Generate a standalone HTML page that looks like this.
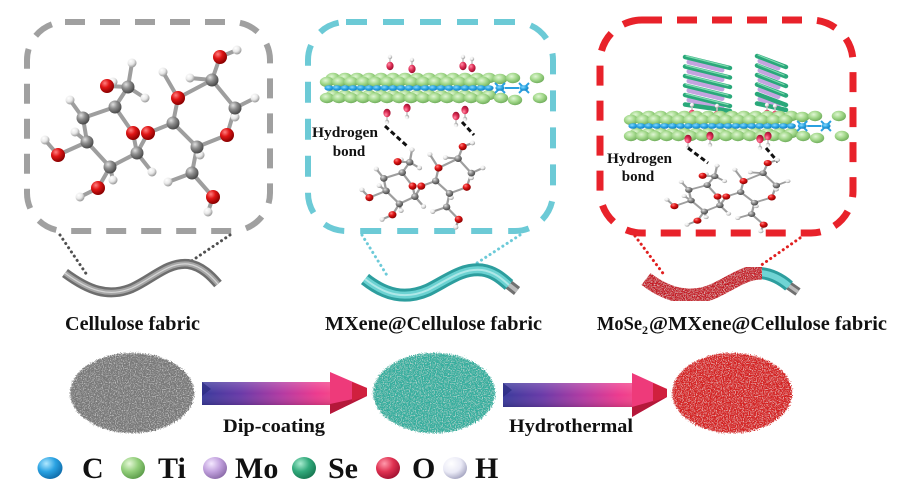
<!DOCTYPE html>
<html><head><meta charset="utf-8"><style>
html,body{margin:0;padding:0;background:#fff;}
svg{display:block;}
text{font-family:"Liberation Serif","DejaVu Serif",serif;font-weight:bold;fill:#111;}
</style></head><body>
<svg width="910" height="503" viewBox="0 0 910 503" xmlns="http://www.w3.org/2000/svg">
<defs>
<radialGradient id="gO" cx="35%" cy="30%" r="70%"><stop offset="0" stop-color="#ff8080"/><stop offset="0.45" stop-color="#e01515"/><stop offset="1" stop-color="#8a0000"/></radialGradient>
<radialGradient id="gC" cx="35%" cy="30%" r="70%"><stop offset="0" stop-color="#e0e0e0"/><stop offset="0.45" stop-color="#8e8e8e"/><stop offset="1" stop-color="#4a4a4a"/></radialGradient>
<radialGradient id="gH" cx="35%" cy="30%" r="70%"><stop offset="0" stop-color="#ffffff"/><stop offset="0.55" stop-color="#e8e8e8"/><stop offset="1" stop-color="#9a9a9a"/></radialGradient>
<radialGradient id="gG" cx="40%" cy="35%" r="70%"><stop offset="0" stop-color="#e0f6d4"/><stop offset="0.5" stop-color="#a2d88a"/><stop offset="1" stop-color="#6aa856"/></radialGradient>
<radialGradient id="gB" cx="40%" cy="35%" r="70%"><stop offset="0" stop-color="#8ad8ff"/><stop offset="0.5" stop-color="#2aa6e4"/><stop offset="1" stop-color="#1478b8"/></radialGradient>
<radialGradient id="gOs" cx="35%" cy="30%" r="70%"><stop offset="0" stop-color="#ff90a8"/><stop offset="0.5" stop-color="#e03058"/><stop offset="1" stop-color="#a01030"/></radialGradient>
<radialGradient id="lC" cx="35%" cy="30%" r="75%"><stop offset="0" stop-color="#b0e8ff"/><stop offset="0.5" stop-color="#2aa2e2"/><stop offset="1" stop-color="#0e6aa8"/></radialGradient>
<radialGradient id="lTi" cx="35%" cy="30%" r="75%"><stop offset="0" stop-color="#e6f8d8"/><stop offset="0.5" stop-color="#92ce7a"/><stop offset="1" stop-color="#5a9a48"/></radialGradient>
<radialGradient id="lMo" cx="35%" cy="30%" r="75%"><stop offset="0" stop-color="#f4e8ff"/><stop offset="0.5" stop-color="#c2a2de"/><stop offset="1" stop-color="#8a6aa8"/></radialGradient>
<radialGradient id="lSe" cx="35%" cy="30%" r="75%"><stop offset="0" stop-color="#a8ecd0"/><stop offset="0.5" stop-color="#32aa7c"/><stop offset="1" stop-color="#167650"/></radialGradient>
<radialGradient id="lO" cx="35%" cy="30%" r="75%"><stop offset="0" stop-color="#ff9aac"/><stop offset="0.5" stop-color="#e03252"/><stop offset="1" stop-color="#a01030"/></radialGradient>
<radialGradient id="lH" cx="35%" cy="30%" r="75%"><stop offset="0" stop-color="#ffffff"/><stop offset="0.55" stop-color="#eaeaf6"/><stop offset="1" stop-color="#a4a4c0"/></radialGradient>
<linearGradient id="arr" x1="0" y1="0" x2="1" y2="0"><stop offset="0" stop-color="#3a3a9c"/><stop offset="0.3" stop-color="#6a3aa8"/><stop offset="0.62" stop-color="#b43aa2"/><stop offset="0.88" stop-color="#ec3a8e"/><stop offset="1" stop-color="#f4468a"/></linearGradient>
<linearGradient id="arrV" x1="0" y1="0" x2="0" y2="1"><stop offset="0" stop-color="#fff" stop-opacity="0.18"/><stop offset="0.5" stop-color="#fff" stop-opacity="0"/><stop offset="1" stop-color="#000" stop-opacity="0.15"/></linearGradient>
<filter id="spk" x="-10%" y="-10%" width="120%" height="120%">
<feTurbulence type="fractalNoise" baseFrequency="0.85" numOctaves="2" seed="4" result="n"/>
<feDisplacementMap in="SourceGraphic" in2="n" scale="6" xChannelSelector="R" yChannelSelector="G" result="d"/>
<feColorMatrix in="n" type="matrix" values="0 0 0 0 1  0 0 0 0 1  0 0 0 0 1  1.6 0 0 0 -0.78" result="w"/>
<feComposite in="w" in2="d" operator="in" result="ws"/>
<feMerge><feMergeNode in="d"/><feMergeNode in="ws"/></feMerge>
</filter>
<filter id="spk2" x="-10%" y="-20%" width="120%" height="140%">
<feTurbulence type="fractalNoise" baseFrequency="0.9" numOctaves="2" seed="7" result="n"/>
<feColorMatrix in="n" type="matrix" values="0 0 0 0 0.85  0 0 0 0 0.8  0 0 0 0 0.8  2.2 0 0 0 -1.05" result="w"/>
<feComposite in="w" in2="SourceGraphic" operator="in" result="ws"/>
<feMerge><feMergeNode in="SourceGraphic"/><feMergeNode in="ws"/></feMerge>
</filter>

<g id="mol">
<g stroke="#9e9e9e" stroke-width="4" stroke-linecap="round" fill="none">
<path d="M83,118L115,107L133,133L137,153L110,167L87,142Z"/>
<path d="M115,107L128,87M128,87L107,86M107,86L113,82M128,87L132,63M128,87L145,98M83,118L70,100M87,142L75,132M87,142L58,155M58,155L45,140M110,167L113,180M110,167L98,188M98,188L80,197M137,153L152,172M137,153L148,133M148,133L173,123M173,123L178,98M178,98L212,80M212,80L220,57M220,57L237,50M212,80L235,108M235,108L227,135M227,135L197,147M197,147L173,123M235,108L255,98M235,108L235,117M197,147L200,155M197,147L192,173M192,173L213,197M213,197L208,212M192,173L168,182M178,98L163,72M212,80L190,78"/>
</g>
<g fill="url(#gH)">
<circle cx="113" cy="82" r="4.5"/><circle cx="132" cy="63" r="4.5"/><circle cx="145" cy="98" r="4.5"/><circle cx="70" cy="100" r="4.5"/><circle cx="75" cy="132" r="4.5"/><circle cx="45" cy="140" r="4.5"/><circle cx="113" cy="180" r="4.5"/><circle cx="80" cy="197" r="4.5"/><circle cx="152" cy="172" r="4.5"/><circle cx="163" cy="72" r="4.5"/><circle cx="190" cy="78" r="4.5"/><circle cx="237" cy="50" r="4.5"/><circle cx="255" cy="98" r="4.5"/><circle cx="235" cy="117" r="4.5"/><circle cx="200" cy="155" r="4.5"/><circle cx="168" cy="182" r="4.5"/><circle cx="208" cy="212" r="4.5"/>
</g>
<g fill="url(#gC)">
<circle cx="83" cy="118" r="6.5"/><circle cx="115" cy="107" r="6.5"/><circle cx="128" cy="87" r="6.5"/><circle cx="87" cy="142" r="6.5"/><circle cx="110" cy="167" r="6.5"/><circle cx="137" cy="153" r="6.5"/><circle cx="173" cy="123" r="6.5"/><circle cx="197" cy="147" r="6.5"/><circle cx="212" cy="80" r="6.5"/><circle cx="235" cy="108" r="6.5"/><circle cx="192" cy="173" r="6.5"/>
</g>
<g fill="url(#gO)">
<circle cx="107" cy="86" r="7"/><circle cx="133" cy="133" r="7"/><circle cx="148" cy="133" r="7"/><circle cx="58" cy="155" r="7"/><circle cx="98" cy="188" r="7"/><circle cx="178" cy="98" r="7"/><circle cx="220" cy="57" r="7"/><circle cx="227" cy="135" r="7"/><circle cx="213" cy="197" r="7"/>
</g>
</g>

<ellipse id="ge" cx="0" cy="0" rx="7.2" ry="5.2" fill="url(#gG)"/>
<ellipse id="be" cx="0" cy="0" rx="4.6" ry="2.8" fill="url(#gB)"/>

<g id="mx">
<g>
<use href="#ge" x="10" y="-10"/><use href="#ge" x="22" y="-10"/><use href="#ge" x="34" y="-10"/><use href="#ge" x="46" y="-10"/><use href="#ge" x="58" y="-10"/><use href="#ge" x="70" y="-10"/><use href="#ge" x="82" y="-10"/><use href="#ge" x="94" y="-10"/><use href="#ge" x="106" y="-10"/><use href="#ge" x="118" y="-10"/><use href="#ge" x="130" y="-10"/><use href="#ge" x="142" y="-10"/><use href="#ge" x="154" y="-10"/><use href="#ge" x="166" y="-10"/>
<use href="#ge" x="4" y="-6"/><use href="#ge" x="16" y="-6"/><use href="#ge" x="28" y="-6"/><use href="#ge" x="40" y="-6"/><use href="#ge" x="52" y="-6"/><use href="#ge" x="64" y="-6"/><use href="#ge" x="76" y="-6"/><use href="#ge" x="88" y="-6"/><use href="#ge" x="100" y="-6"/><use href="#ge" x="112" y="-6"/><use href="#ge" x="124" y="-6"/><use href="#ge" x="136" y="-6"/><use href="#ge" x="148" y="-6"/><use href="#ge" x="160" y="-6"/>
<use href="#ge" x="10" y="7"/><use href="#ge" x="22" y="7"/><use href="#ge" x="34" y="7"/><use href="#ge" x="46" y="7"/><use href="#ge" x="58" y="7"/><use href="#ge" x="70" y="7"/><use href="#ge" x="82" y="7"/><use href="#ge" x="94" y="7"/><use href="#ge" x="106" y="7"/><use href="#ge" x="118" y="7"/><use href="#ge" x="130" y="7"/><use href="#ge" x="142" y="7"/><use href="#ge" x="154" y="7"/><use href="#ge" x="166" y="7"/>
<use href="#ge" x="4" y="10"/><use href="#ge" x="16" y="10"/><use href="#ge" x="28" y="10"/><use href="#ge" x="40" y="10"/><use href="#ge" x="52" y="10"/><use href="#ge" x="64" y="10"/><use href="#ge" x="76" y="10"/><use href="#ge" x="88" y="10"/><use href="#ge" x="100" y="10"/><use href="#ge" x="112" y="10"/><use href="#ge" x="124" y="10"/><use href="#ge" x="136" y="10"/><use href="#ge" x="148" y="10"/><use href="#ge" x="160" y="11"/>
<use href="#ge" x="177" y="-9"/><use href="#ge" x="190" y="-10"/><use href="#ge" x="214" y="-10"/><use href="#ge" x="178" y="10"/><use href="#ge" x="192" y="12"/><use href="#ge" x="217" y="10"/>
</g>
<g stroke="#2aa0e0" stroke-width="2">
<path d="M172,-5L182,5M182,-5L172,5M196,-5L206,5M206,-5L196,5M182,0L196,0" />
</g>
<g>
<use href="#be" x="6" y="0"/><use href="#be" x="14" y="0"/><use href="#be" x="22" y="0"/><use href="#be" x="30" y="0"/><use href="#be" x="38" y="0"/><use href="#be" x="46" y="0"/><use href="#be" x="54" y="0"/><use href="#be" x="62" y="0"/><use href="#be" x="70" y="0"/><use href="#be" x="78" y="0"/><use href="#be" x="86" y="0"/><use href="#be" x="94" y="0"/><use href="#be" x="102" y="0"/><use href="#be" x="110" y="0"/><use href="#be" x="118" y="0"/><use href="#be" x="126" y="0"/><use href="#be" x="134" y="0"/><use href="#be" x="142" y="0"/><use href="#be" x="150" y="0"/><use href="#be" x="158" y="0"/><use href="#be" x="166" y="0"/><use href="#be" x="177" y="0"/><use href="#be" x="201" y="0"/>
</g>
</g>

<g id="oh">
<line x1="0" y1="0" x2="0" y2="-9" stroke="#c8c8c8" stroke-width="1.6"/>
<ellipse cx="0" cy="0" rx="3.6" ry="4.2" fill="url(#gOs)"/>
<circle cx="0" cy="-9" r="2.2" fill="url(#gH)"/>
</g>
</defs>

<rect width="910" height="503" fill="#fff"/>

<!-- Boxes -->
<rect x="27" y="22" width="243" height="209" rx="38" fill="none" stroke="#a0a0a0" stroke-width="6" stroke-dasharray="20 15"/>
<rect x="308" y="22" width="245" height="209" rx="38" fill="none" stroke="#6ccad6" stroke-width="6" stroke-dasharray="21 16"/>
<rect x="600" y="20" width="253" height="213" rx="42" fill="none" stroke="#e8222a" stroke-width="7" stroke-dasharray="20 15"/>

<!-- Left molecule -->
<use href="#mol"/>

<!-- Middle box content -->
<use href="#oh" transform="translate(390,66)"/>
<use href="#oh" transform="translate(412,69)"/>
<use href="#oh" transform="translate(463,66)"/>
<use href="#oh" transform="translate(472,68)"/>
<use href="#mx" transform="translate(323,88)"/>
<use href="#oh" transform="translate(387,113) scale(1,-1)"/>
<use href="#oh" transform="translate(407,108) scale(1,-1)"/>
<use href="#oh" transform="translate(456,116) scale(1,-1)"/>
<use href="#oh" transform="translate(465,110) scale(1,-1)"/>
<text x="312" y="137" font-size="15" textLength="66" lengthAdjust="spacingAndGlyphs">Hydrogen</text>
<text x="349" y="156" font-size="15" text-anchor="middle">bond</text>
<g stroke="#111" stroke-width="3" stroke-dasharray="5 3">
<line x1="385" y1="126" x2="407" y2="146"/>
<line x1="462" y1="122" x2="474" y2="135"/>
</g>
<use href="#mol" transform="translate(336,117) scale(0.576,0.52)"/>

<!-- Right box content -->
<g stroke-linecap="round">
<g stroke="#c4a4e0" stroke-width="5">
<path d="M689,62L722,70M689,71.5L722,79.5M689,81L722,89M689,90.5L722,98.5M689,100L722,108"/>
<path d="M760,61L778,68M760,70.5L778,77.5M760,80L778,87M760,89.5L778,96.5M760,99L778,106"/>
</g>
<g stroke="#2aa87a" stroke-width="4.5">
<path d="M685,57L730,68M685,66.5L730,77.5M685,76L730,87M685,85.5L730,96.5M685,95L730,106M685,104.5L730,111"/>
<path d="M757,56L786,67M757,65.5L786,76.5M757,75L786,86M757,84.5L786,95.5M757,94L786,105M757,103.5L786,110"/>
</g>
<g stroke="#7fdcb0" stroke-width="1.2">
<path d="M686,56L728,66.5M686,65.5L728,76M686,75L728,85.5M686,84.5L728,95M686,94L728,104.5"/>
<path d="M758,55L784,65.5M758,64.5L784,75M758,74L784,84.5M758,83.5L784,94"/>
</g>
</g>
<use href="#oh" transform="translate(692,114)"/>
<use href="#oh" transform="translate(717,115)"/>
<use href="#oh" transform="translate(767,114)"/>
<use href="#oh" transform="translate(775,115)"/>
<use href="#mx" transform="translate(627,126) scale(0.99,1)"/>
<use href="#oh" transform="translate(688,139) scale(1,-1)"/>
<use href="#oh" transform="translate(710,136) scale(1,-1)"/>
<use href="#oh" transform="translate(760,139) scale(1,-1)"/>
<use href="#oh" transform="translate(768,136) scale(1,-1)"/>
<text x="607" y="163" font-size="15" textLength="65" lengthAdjust="spacingAndGlyphs">Hydrogen</text>
<text x="638" y="181" font-size="15" text-anchor="middle">bond</text>
<g stroke="#111" stroke-width="3" stroke-dasharray="5 3">
<line x1="688" y1="148" x2="708" y2="163"/>
<line x1="766" y1="148" x2="778" y2="162"/>
</g>
<use href="#mol" transform="translate(641,138) scale(0.576,0.44)"/>

<!-- Dotted connectors -->
<g stroke-width="3" stroke-linecap="round" stroke-dasharray="0.1 5" fill="none">
<path d="M60,235L87,275M230,235L190,262" stroke="#505050"/>
<path d="M362,235L388,277M520,235L477,263" stroke="#6ccad8"/>
<path d="M635,236L665,276M800,238L760,266" stroke="#e02020"/>
</g>

<!-- Fibers -->
<path d="M65,273C88,290 108,298 132,288C152,279 168,262 188,264C202,266 212,277 218,284" fill="none" stroke="#6e6e6e" stroke-width="10" stroke-linecap="butt"/>
<path d="M65,273C88,290 108,298 132,288C152,279 168,262 188,264C202,266 212,277 218,284" fill="none" stroke="#a6a6a6" stroke-width="5"/>
<path d="M65,273C88,290 108,298 132,288C152,279 168,262 188,264C202,266 212,277 218,284" fill="none" stroke="#d6d6d6" stroke-width="1.2"/>

<path d="M508,284L517,291" stroke="#707070" stroke-width="10"/>
<path d="M508,284L517,291" stroke="#bbb" stroke-width="4"/>
<path d="M365,279C385,295 405,300 428,290C448,280 462,268 482,270C495,272 502,279 509,285" fill="none" stroke="#2d9e9e" stroke-width="13"/>
<path d="M365,279C385,295 405,300 428,290C448,280 462,268 482,270C495,272 502,279 509,285" fill="none" stroke="#6cd2d2" stroke-width="7"/>
<path d="M365,279C385,295 405,300 428,290C448,280 462,268 482,270C495,272 502,279 509,285" fill="none" stroke="#aee8e8" stroke-width="2"/>

<path d="M788,285L798,292" stroke="#707070" stroke-width="9"/>
<path d="M788,285L798,292" stroke="#bbb" stroke-width="3.5"/>
<path d="M760,273C773,274 782,280 789,286" fill="none" stroke="#2d9e9e" stroke-width="12"/>
<path d="M760,273C773,274 782,280 789,286" fill="none" stroke="#70d4d4" stroke-width="6"/>
<path d="M646,279C668,296 692,301 714,291C735,281 745,272 762,272" fill="none" stroke="#c41c26" stroke-width="15" filter="url(#spk2)"/>

<!-- Labels -->
<text x="65" y="330" font-size="20" textLength="135" lengthAdjust="spacingAndGlyphs">Cellulose fabric</text>
<text x="325" y="330" font-size="20" textLength="217" lengthAdjust="spacingAndGlyphs">MXene@Cellulose fabric</text>
<text x="597" y="330" font-size="20" textLength="45" lengthAdjust="spacingAndGlyphs">MoSe</text>
<text x="642" y="334" font-size="12">2</text>
<text x="649" y="330" font-size="20" textLength="238" lengthAdjust="spacingAndGlyphs">@MXene@Cellulose fabric</text>

<!-- Ovals -->
<ellipse cx="132" cy="393" rx="62" ry="40" fill="#787878" filter="url(#spk)"/>
<ellipse cx="434" cy="393" rx="61" ry="40" fill="#34ae9e" filter="url(#spk)"/>
<ellipse cx="732" cy="393" rx="60" ry="40" fill="#d42420" filter="url(#spk)"/>

<!-- Arrow 1 -->
<rect x="202" y="382" width="130" height="23" fill="url(#arr)"/>
<rect x="202" y="382" width="130" height="23" fill="url(#arrV)"/>
<polygon points="202,382 211,389 202,396" fill="#2a2a80" opacity="0.7"/>
<polygon points="330,372 367,388 367,396 330,414" fill="#ee3a7a"/>
<polygon points="330,404 367,396 330,414" fill="#b4183a"/>
<polygon points="352,382 367,388 367,396 352,401" fill="#d0203e"/>
<!-- Arrow 2 -->
<rect x="503" y="383" width="131" height="24" fill="url(#arr)"/>
<rect x="503" y="383" width="131" height="24" fill="url(#arrV)"/>
<polygon points="503,383 512,390 503,397" fill="#2a2a80" opacity="0.7"/>
<polygon points="632,373 667,389 667,397 632,417" fill="#ee3a7a"/>
<polygon points="632,407 667,397 632,417" fill="#b4183a"/>
<polygon points="653,383 667,389 667,397 653,402" fill="#d0203e"/>

<text x="223" y="432" font-size="19" textLength="102" lengthAdjust="spacingAndGlyphs">Dip-coating</text>
<text x="509" y="432" font-size="19" textLength="124" lengthAdjust="spacingAndGlyphs">Hydrothermal</text>

<!-- Legend -->
<ellipse cx="50" cy="468" rx="12.5" ry="11" fill="url(#lC)"/>
<ellipse cx="133" cy="468" rx="12" ry="11" fill="url(#lTi)"/>
<ellipse cx="215" cy="468" rx="12" ry="11" fill="url(#lMo)"/>
<ellipse cx="304" cy="468" rx="12" ry="11" fill="url(#lSe)"/>
<ellipse cx="388" cy="468" rx="12" ry="11" fill="url(#lO)"/>
<ellipse cx="455" cy="468" rx="12" ry="11" fill="url(#lH)"/>
<text x="82" y="478" font-size="30">C</text>
<text x="158" y="478" font-size="30">Ti</text>
<text x="235" y="478" font-size="30">Mo</text>
<text x="328" y="478" font-size="30">Se</text>
<text x="412" y="478" font-size="30">O</text>
<text x="475" y="478" font-size="30">H</text>
</svg>
</body></html>
